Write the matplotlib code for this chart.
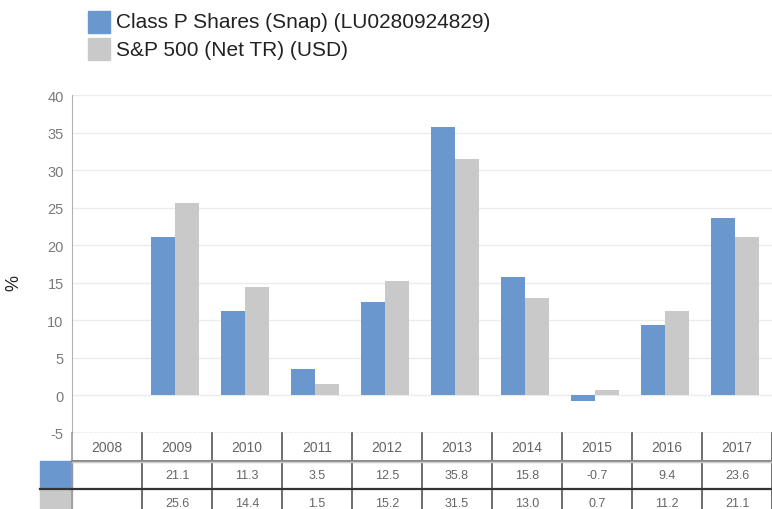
import matplotlib
matplotlib.use('Agg')
import matplotlib.pyplot as plt
from matplotlib.patches import Rectangle

years = ['2008', '2009', '2010', '2011', '2012', '2013', '2014', '2015', '2016', '2017']
fund = [None, 21.1, 11.3, 3.5, 12.5, 35.8, 15.8, -0.7, 9.4, 23.6]
index = [None, 25.6, 14.4, 1.5, 15.2, 31.5, 13.0, 0.7, 11.2, 21.1]
series_names = ['Class P Shares (Snap) (LU0280924829)', 'S&P 500 (Net TR) (USD)']
colors = ['#6b97cf', '#c9c9c9']

plt.rcParams['font.family'] = ['Liberation Sans', 'DejaVu Sans']
plt.rcParams['axes.unicode_minus'] = False

W, H = 772, 510
fig = plt.figure(figsize=(W / 100, H / 100), dpi=100)

def fx(px):
    return px / W

def fy(py):
    return 1 - py / H

# main chart: x 72..772, y 96 (40) .. 434 (-5)
ax = fig.add_axes([fx(72), fy(434), fx(700), (434 - 96) / H])
n = len(years)
xs = list(range(n))
bw = 0.34
shift = -0.03
for i in xs:
    if fund[i] is not None:
        ax.bar(i + shift - bw / 2, fund[i], width=bw, color=colors[0], zorder=3)
    if index[i] is not None:
        ax.bar(i + shift + bw / 2, index[i], width=bw, color=colors[1], zorder=3)

ax.set_xlim(-0.5, n - 0.5)
ax.set_ylim(-5, 40)
ax.set_yticks(range(-5, 41, 5))
ax.set_xticks([])
ax.tick_params(axis='y', length=0, pad=6, labelsize=10.5, labelcolor='#7a7a7a')
ax.grid(axis='y', color='#ececec', linewidth=1, zorder=0)
for s in ['top', 'right', 'bottom']:
    ax.spines[s].set_visible(False)
ax.spines['left'].set_color('#b0b0b0')
ax.axhline(-5, color='#c0c0c0', linewidth=1, linestyle=(0, (2, 1)), zorder=2)

fig.text(fx(14), fy(283), '%', rotation=90, fontsize=13, ha='center', va='center', color='#222222')

# legend
for k, name in enumerate(series_names):
    top = 12 + k * 27
    fig.patches.append(Rectangle((fx(88), fy(top + 22)), fx(22), 22 / H,
                                 transform=fig.transFigure, color=colors[k]))
    fig.text(fx(116), fy(top + 11), name, fontsize=15, va='center', ha='left', color='#222222')

# data table below
row_h = 28
tab = fig.add_axes([fx(72), 0, fx(700), (H - 434) / H])
tab.set_xlim(-0.5, n - 0.5)
tab.set_ylim((H - 434) / row_h, 0)
tab.axis('off')

line_c = '#555555'
for i in range(n + 1):
    tab.plot([i - 0.5, i - 0.5], [0, 3], color=line_c if i > 0 else '#999999', linewidth=1.2, clip_on=False)
tab.plot([-0.5, n - 0.5], [1, 1], color='#8a8a8a', linewidth=2.2, clip_on=False)
tab.plot([-0.5, n - 0.5], [1.04, 1.04], color='#cccccc', linewidth=1, clip_on=False)
tab.plot([-0.957, n - 0.5], [2, 2], color='#333333', linewidth=1.6, clip_on=False)

for i in xs:
    tab.text(i, 0.5, years[i], ha='center', va='center', fontsize=10, color='#666666')
    if fund[i] is not None:
        tab.text(i, 1.5, f'{fund[i]:.1f}', ha='center', va='center', fontsize=9, color='#666666')
    if index[i] is not None:
        tab.text(i, 2.5, f'{index[i]:.1f}', ha='center', va='center', fontsize=9, color='#666666')

for k in range(2):
    tab.add_patch(Rectangle((-0.957, 1 + k), 0.457, 1, color=colors[k], clip_on=False))

fig.savefig('out.png', dpi=100)
